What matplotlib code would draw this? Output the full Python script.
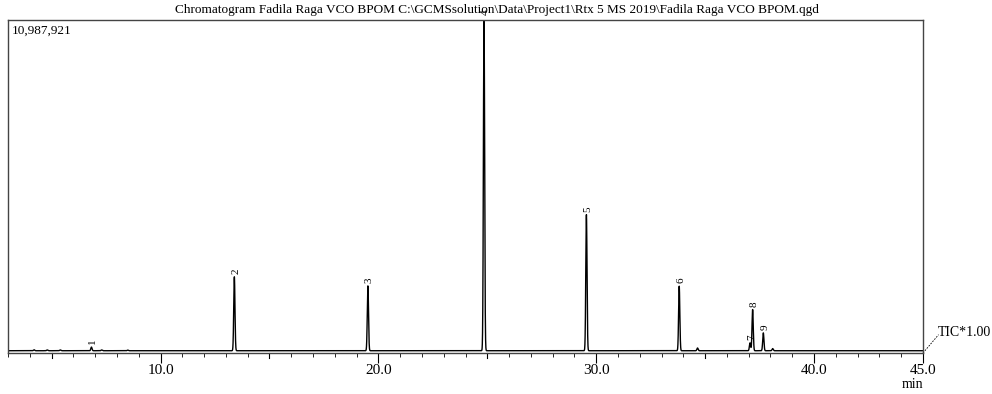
import numpy as np
import matplotlib
matplotlib.use("Agg")
import matplotlib.pyplot as plt
from matplotlib.ticker import MultipleLocator, FixedLocator

# peak table (retention time min, height counts)
peak_ids = ["1", "2", "3", "4", "5", "6", "7", "8", "9"]
peak_rt = [6.83, 13.39, 19.52, 24.85, 29.55, 33.81, 37.06, 37.18, 37.67]
peak_h = [120000, 2440000, 2140000, 11000000, 4490000, 2130000, 260000, 1360000, 590000]
# small unlabelled bumps
bump_rt = [4.2, 4.8, 5.4, 7.3, 8.5, 34.65, 38.1]
bump_h = [30000, 25000, 25000, 25000, 20000, 90000, 70000]

baseline = 75000
y_top = 10987921
t_start, t_end = 3.0, 45.0

plt.rcParams["font.family"] = ["Liberation Serif", "DejaVu Serif"]

t = np.linspace(t_start, t_end, 20000)
sig = np.full_like(t, baseline, dtype=float)
for rt, h in zip(peak_rt + bump_rt, peak_h + bump_h):
    sig += h * np.exp(-0.5 * ((t - rt) / 0.028) ** 2)

fig = plt.figure(figsize=(9.92, 3.94), dpi=100)
ax = fig.add_axes([8 / 992, 41 / 394, 915 / 992, 333 / 394])
ax.plot(t, sig, color="black", lw=1.0, clip_on=True)
ax.set_xlim(t_start, t_end)
ax.set_ylim(0, y_top)

for pid, rt, h in zip(peak_ids, peak_rt, peak_h):
    ax.annotate(pid, (rt, baseline + h), xytext=(1, 2), textcoords="offset points",
                rotation=90, ha="center", va="bottom", fontsize=8, annotation_clip=False)

ax.xaxis.set_major_locator(FixedLocator([10, 20, 30, 40, 45]))
ax.set_xticklabels(["10.0", "20.0", "30.0", "40.0", "45.0"])
ax.xaxis.set_minor_locator(MultipleLocator(1))
ax.tick_params(axis="x", which="major", length=7, width=0.8, labelsize=11, pad=1)
ax.tick_params(axis="x", which="minor", length=3, width=0.6)
for v in [5, 15, 25, 35]:
    ax.plot([v, v], [0, -0.015], transform=ax.get_xaxis_transform(), color="black",
            lw=0.8, clip_on=False)
ax.set_yticks([])
for s in ax.spines.values():
    s.set_color("#444444")
    s.set_linewidth(1.0)

ax.text(0.004, 0.985, "10,987,921", transform=ax.transAxes, ha="left", va="top", fontsize=9.5)
fig.text(497 / 992, 1 - 10 / 394,
         "Chromatogram Fadila Raga VCO BPOM C:\\GCMSsolution\\Data\\Project1\\Rtx 5 MS 2019\\Fadila Raga VCO BPOM.qgd",
         ha="center", va="center", fontsize=9.5)
fig.text(912 / 992, 1 - 385 / 394, "min", ha="center", va="center", fontsize=10)

# TIC marker
ax.plot([1.0, 1.017], [0.0, 0.055], transform=ax.transAxes, color="black", lw=0.6,
        ls=(0, (2, 1.5)), clip_on=False)
fig.text(938 / 992, 1 - 333 / 394, "TIC*1.00", ha="left", va="center", fontsize=10)

fig.savefig("out.png", dpi=100)
